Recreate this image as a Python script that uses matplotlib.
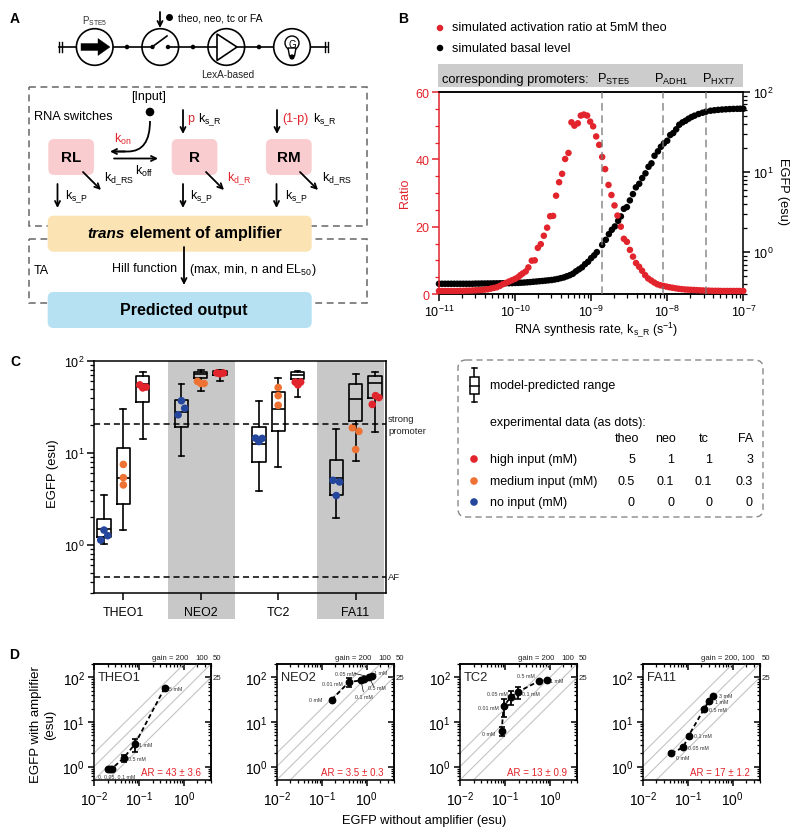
import numpy as np
import matplotlib
matplotlib.use('Agg')
import matplotlib.pyplot as plt
from matplotlib.patches import Circle, FancyBboxPatch, FancyArrow, Polygon, PathPatch
from matplotlib.path import Path
from matplotlib.ticker import MultipleLocator, LogLocator, NullFormatter

plt.rcParams['font.family'] = ['Liberation Sans', 'DejaVu Sans']
plt.rcParams['mathtext.default'] = 'regular'
plt.rcParams['axes.linewidth'] = 1.1

RED = '#E2242C'
ORANGE = '#EE7233'
BLUE = '#24479D'
W, H = 800, 837

# panel B, simulated curves (log10 of synthesis rate)
ratio_lx = [-11.0, -10.96, -10.92, -10.88, -10.84, -10.8, -10.76, -10.72, -10.68, -10.64, -10.6, -10.56,
            -10.52, -10.48, -10.44, -10.4, -10.36, -10.32, -10.28, -10.24, -10.2, -10.16, -10.12, -10.08,
            -10.04, -10.0, -9.96, -9.93, -9.9, -9.86, -9.825, -9.78, -9.741, -9.701, -9.662, -9.622,
            -9.579, -9.539, -9.5, -9.461, -9.421, -9.382, -9.342, -9.298, -9.259, -9.22, -9.175, -9.136,
            -9.096, -9.053, -9.013, -8.974, -8.934, -8.895, -8.855, -8.816, -8.772, -8.733, -8.693, -8.654,
            -8.61, -8.57, -8.53, -8.49, -8.45, -8.41, -8.37, -8.33, -8.29, -8.25, -8.21, -8.17, -8.13,
            -8.09, -8.05, -8.01, -7.97, -7.93, -7.89, -7.85, -7.81, -7.77, -7.73, -7.69, -7.65, -7.61,
            -7.57, -7.53, -7.49, -7.45, -7.41, -7.37, -7.33, -7.29, -7.25, -7.21, -7.17, -7.13, -7.09,
            -7.05, -7.0]
ratio_vals = [0.9, 0.9, 0.9, 0.9, 0.9, 0.9, 0.9, 0.95, 0.95, 1.0, 1.0, 1.05,
              1.1, 1.15, 1.2, 1.3, 1.4, 1.6, 1.8, 2.0, 2.4, 2.9, 3.3, 3.7,
              4.1, 4.5, 5.0, 5.6, 6.1, 6.7, 7.9, 9.9, 10.0, 13.7, 14.8, 17.3,
              19.7, 23.1, 23.2, 29.2, 33.2, 35.7, 40.1, 41.9, 51.0, 50.0, 50.7, 53.0,
              53.3, 53.0, 51.2, 49.8, 46.8, 44.3, 40.7, 37.1, 32.4, 29.4, 26.3, 23.3,
              20.0, 16.4, 15.5, 13.1, 11.1, 9.2, 8.1, 6.9, 5.6, 4.6, 4.0, 3.4, 2.9,
              2.6, 2.4, 2.2, 2.0, 1.85, 1.7, 1.55, 1.45, 1.35, 1.3, 1.25, 1.2, 1.15,
              1.1, 1.05, 1.0, 1.0, 0.95, 0.95, 0.95, 0.9, 0.9, 0.9, 0.9, 0.9, 0.9,
              0.9, 0.9]

basal_lx = [-11.0, -10.96, -10.92, -10.88, -10.84, -10.8, -10.76, -10.72, -10.68, -10.64, -10.6, -10.56,
            -10.52, -10.48, -10.44, -10.4, -10.36, -10.32, -10.28, -10.24, -10.2, -10.16, -10.12, -10.08,
            -10.04, -10.0, -9.96, -9.92, -9.88, -9.84, -9.8, -9.76, -9.72, -9.68, -9.64, -9.6,
            -9.56, -9.52, -9.48, -9.44, -9.4, -9.36, -9.32, -9.28, -9.24, -9.2, -9.16, -9.12,
            -9.08, -9.04, -9.0, -8.96, -8.925, -8.855, -8.807, -8.767, -8.728, -8.688, -8.645, -8.609,
            -8.57, -8.53, -8.491, -8.451, -8.412, -8.368, -8.329, -8.286, -8.246, -8.207, -8.167, -8.122,
            -8.083, -8.043, -8.0, -7.961, -7.921, -7.882, -7.842, -7.799, -7.759, -7.72, -7.68, -7.641,
            -7.588, -7.536, -7.49, -7.43, -7.38, -7.33, -7.28, -7.23, -7.18, -7.13, -7.08, -7.04, -7.0]
basal_log = [-0.395, -0.395, -0.395, -0.395, -0.395, -0.395, -0.395, -0.395, -0.395, -0.395, -0.395, -0.395,
             -0.393, -0.393, -0.392, -0.392, -0.391, -0.391, -0.39, -0.39, -0.389, -0.389, -0.388, -0.388,
             -0.387, -0.385, -0.384, -0.382, -0.38, -0.377, -0.374, -0.37, -0.367, -0.363, -0.36, -0.356,
             -0.352, -0.348, -0.342, -0.335, -0.325, -0.316, -0.302, -0.288, -0.27, -0.24, -0.215, -0.19,
             -0.15, -0.12, -0.075, -0.04, 0.0, 0.09, 0.154, 0.225, 0.279, 0.321, 0.391, 0.446,
             0.541, 0.5625, 0.646, 0.725, 0.809, 0.854, 0.925, 0.984, 1.066, 1.109, 1.204, 1.259,
             1.316, 1.359, 1.391, 1.4625, 1.4875, 1.534, 1.591, 1.621, 1.641, 1.666, 1.6875, 1.704,
             1.725, 1.741, 1.754, 1.766, 1.772, 1.777, 1.781, 1.784, 1.787, 1.789, 1.79, 1.791, 1.791]
promoter_lx = [-8.86, -8.06, -7.49]
promoter_names = ['P$_{STE5}$', 'P$_{ADH1}$', 'P$_{HXT7}$']

# panel C, predicted range: whisker low, q1, median, q3, whisker high
box_groups = ['THEO1', 'NEO2', 'TC2', 'FA11']
box_lo = [1.02, 1.45, 14.2, 9.2, 47.5, 61, 3.87, 7.1, 40.8, 1.94, 8.15, 17]
box_q1 = [1.23, 2.77, 36, 19.2, 65.8, 71, 8, 17.4, 63, 3.53, 22, 39.5]
box_med = [1.48, 5.39, 55.6, 27.6, 71.6, 75, 12.5, 29.9, 71, 5.39, 39, 57.5]
box_q3 = [1.89, 11.3, 68, 37.9, 76, 78, 19.2, 45.6, 75, 8.4, 56.5, 68.8]
box_hi = [3.53, 30.3, 76, 56.7, 79, 80, 37, 65.8, 78, 18.3, 72, 76]
box_pos = [-1, 0, 1, 3, 4, 5, 7, 8, 9, 11, 12, 13]

# panel C, measured dots
dot_pos = [-1.17, -1.0, -0.81, 0, 0, 0, 0.85, 1.0, 1.17,
           2.83, 3.0, 3.17, 3.83, 4.0, 4.17, 4.83, 5.0, 5.17,
           6.83, 7.0, 7.17, 8.0, 8.0, 8.0, 8.88, 9.02, 9.16,
           10.83, 11.0, 11.17, 11.83, 12.0, 12.17, 12.86, 13.03, 13.2]
dot_vals = [1.13, 1.45, 1.26, 7.5, 5.39, 4.49, 55, 51, 52,
            26, 37, 30.6, 60, 57, 57, 74, 72.6, 74,
            14.5, 13.3, 14.4, 51.5, 42, 33, 59, 55, 59,
            5.04, 3.44, 4.84, 18.8, 10.9, 17.2, 33.7, 42, 40]
dot_cols = ([BLUE] * 3 + [ORANGE] * 3 + [RED] * 3) * 4
strong_promoter = 20.8
af_level = 0.45

# panel C legend table
table_heads = ['theo', 'neo', 'tc', 'FA']
table_rows = ['high input (mM)', 'medium input (mM)', 'no input (mM)']
table_vals = [['5', '1', '1', '3'], ['0.5', '0.1', '0.1', '0.3'], ['0', '0', '0', '0']]

# panel D, dose responses
gains = [200, 100, 50, 25]
d_names = ['THEO1', 'NEO2', 'TC2', 'FA11']
d_ar = ['AR = 43 ± 3.6', 'AR = 3.5 ± 0.3', 'AR = 13 ± 0.9', 'AR = 17 ± 1.2']
theo_x = [0.0208, 0.0226, 0.0248, 0.0457, 0.0815, 0.372]
theo_y = [0.9, 0.9, 0.89, 1.56, 3.2, 57.7]
theo_lo = [0.9, 0.9, 0.89, 1.3, 2.1, 55]
theo_hi = [0.9, 0.9, 0.89, 1.8, 4.2, 60]
neo_x = [0.167, 0.405, 0.736, 0.873, 1.146, 1.29]
neo_y = [31.6, 78.7, 85.7, 93.5, 103, 109]
neo_lo = [31.6, 60.7, 85.7, 93.5, 103, 109]
neo_hi = [31.6, 98, 85.7, 93.5, 103, 109]
tc_x = [0.0843, 0.0934, 0.138, 0.191, 0.57, 0.857]
tc_y = [6.18, 22.8, 36.9, 47, 82.8, 87]
tc_lo = [4.8, 12.9, 23.6, 33.2, 82.8, 87]
tc_hi = [7.7, 33.2, 49.4, 59.7, 82.8, 87]
fa_x = [0.0434, 0.080, 0.105, 0.234, 0.303, 0.36]
fa_y = [1.99, 2.71, 4.94, 19.9, 30, 38.9]


def axes_px(fig, left, top, right, bottom):
    return fig.add_axes([left / W, 1 - bottom / H, (right - left) / W, (bottom - top) / H])


fig = plt.figure(figsize=(W / 100, H / 100), dpi=100)
fig.patch.set_facecolor('white')

# overlay in pixel coordinates for the schematic and loose text
ov = fig.add_axes([0, 0, 1, 1], zorder=10)
ov.set_xlim(0, W)
ov.set_ylim(H, 0)
ov.axis('off')
ov.patch.set_alpha(0)


def label(x, y, s, size=8, color='black', ha='left', va='center', **kw):
    ov.text(x, y, s, fontsize=size, color=color, ha=ha, va=va, **kw)


def arrow(x0, y0, x1, y1, lw=1.3):
    ov.annotate('', xy=(x1, y1), xytext=(x0, y0),
                arrowprops=dict(arrowstyle='->', lw=lw, color='black', mutation_scale=9, shrinkA=0, shrinkB=0))


def rbox(x0, y0, x1, y1, color, rad=6, z=2):
    ov.add_patch(FancyBboxPatch((x0 + rad, y0 + rad), x1 - x0 - 2 * rad, y1 - y0 - 2 * rad,
                                boxstyle='round,pad=%d,rounding_size=%d' % (rad, rad),
                                fc=color, ec='none', zorder=z))


for s, x, y in [('A', 15, 19), ('B', 403, 19), ('C', 15, 362), ('D', 14, 655)]:
    label(x, y, s, size=10, ha='center', fontweight='bold')

# ---- panel A ----
ov.plot([59, 327], [48, 48], color='k', lw=1.2, zorder=1)
for x in [59, 61.5, 325, 327.5]:
    ov.plot([x, x], [43, 53], color='k', lw=1.0, zorder=1)
for x in [127, 193, 259]:
    ov.add_patch(Circle((x, 48), 2.3, fc='k', ec='none', zorder=3))
for x in [94.7, 160.3, 226.3, 292]:
    ov.add_patch(Circle((x, 48), 18.3, fc='white', ec='k', lw=1.2, zorder=2))
ov.add_patch(FancyArrow(81, 48, 29, 0, width=7, head_width=17, head_length=12,
                        length_includes_head=True, fc='k', ec='k', lw=0.3, zorder=3))
# switch
ov.plot([142, 152], [48, 48], color='k', lw=1.2, zorder=3)
ov.plot([168, 178], [48, 48], color='k', lw=1.2, zorder=3)
ov.plot([152, 167], [48, 37], color='k', lw=1.2, zorder=3)
for x in [152.5, 168]:
    ov.add_patch(Circle((x, 48), 2.2, fc='k', ec='none', zorder=3))
# amplifier
ov.plot([208, 218], [48, 48], color='k', lw=1.2, zorder=3)
ov.plot([236, 244], [48, 48], color='k', lw=1.2, zorder=3)
ov.add_patch(Polygon([(217, 35), (217, 61.5), (237, 48)], closed=True, fc='white', ec='k', lw=1.2, zorder=3))
# bulb
ov.add_patch(Circle((292, 44), 7, fc='white', ec='k', lw=1.0, zorder=3))
ov.add_patch(Polygon([(288, 49), (296, 49), (294.5, 57), (289.5, 57)], closed=True, fc='white', ec='k', lw=1.0, zorder=3))
ov.add_patch(Circle((292, 58), 2.6, fc='k', ec='none', zorder=3))
label(292, 44.5, 'G', size=7, ha='center', zorder=4)
arrow(160, 13, 160, 29)
ov.add_patch(Circle((169.5, 18.5), 3.5, fc='k', ec='none'))
label(178, 18, 'theo, neo, tc or FA', size=7.5)
label(95, 21.5, 'P$_{STE5}$', size=7, ha='center', color='#333333')
label(228, 75, 'LexA-based', size=7.2, ha='center', color='#222222')

dash = (0, (4.5, 3))
ov.add_patch(FancyBboxPatch((28.7, 87.7), 338, 139.3, boxstyle='square,pad=0', fc='none', ec='#666666', lw=1.1, ls=dash, zorder=1))
ov.add_patch(FancyBboxPatch((28.7, 240), 338, 64, boxstyle='square,pad=0', fc='none', ec='#666666', lw=1.1, ls=dash, zorder=1))
for x0, s in [(48.3, 'RL'), (171.7, 'R'), (266, 'RM')]:
    rbox(x0, 140, x0 + 45.7, 176, '#F9CDD0')
    label(x0 + 22.8, 158, s, size=11, ha='center', fontweight='bold', zorder=3)
rbox(47.7, 216.7, 311.7, 252.7, '#FBE3B3')
rbox(47.7, 293, 311.7, 329, '#B5E1F3')
label(87, 233.5, 'trans', size=11, fontweight='bold', style='italic', zorder=3)
label(130, 233.5, 'element of amplifier', size=11.5, fontweight='bold', zorder=3)
label(184, 310.5, 'Predicted output', size=11.5, ha='center', fontweight='bold', zorder=3)

label(149, 97, '[Input]', size=9, ha='center')
label(34, 117, 'RNA switches', size=9.2)
ov.add_patch(Circle((150, 113), 4.3, fc='k', ec='none'))
curve = Path([(150, 122), (150, 152.5), (128, 152.5), (113, 152.5)],
             [Path.MOVETO, Path.CURVE3, Path.CURVE3, Path.LINETO])
ov.add_patch(PathPatch(curve, fc='none', ec='k', lw=1.3))
arrow(125, 152.5, 110, 152.5)
arrow(114, 159.5, 158, 159.5)
label(114, 139, 'k$_{on}$', size=9, color=RED)
label(135, 171, 'k$_{off}$', size=9)
arrow(183, 111, 183, 135)
arrow(277, 111, 277, 135)
label(187, 119, 'p', size=9, color=RED)
label(198, 120, r'k$_{s\_R}$', size=9)
label(282, 119, '(1-p)', size=9, color=RED)
label(313, 120, r'k$_{s\_R}$', size=9)
for x0, tx, s, c in [(83, 104, r'k$_{d\_RS}$', 'black'), (206, 227, r'k$_{d\_R}$', RED), (300, 322, r'k$_{d\_RS}$', 'black')]:
    arrow(x0, 173, x0 + 18, 191)
    label(tx, 179, s, size=9, color=c)
for x0, tx in [(57.5, 65), (183, 190.5), (276.5, 285)]:
    arrow(x0, 185, x0, 209)
    label(tx, 197, r'k$_{s\_P}$', size=9)
arrow(184, 248, 184, 286)
label(177, 269, 'Hill function', size=9, ha='right')
label(189, 269.5, '(max, min, n and EL$_{50}$)', size=9)
label(34, 271, 'TA', size=9)

# ---- panel B ----
ov.add_patch(FancyBboxPatch((437.7, 65), 305, 23, boxstyle='square,pad=0', fc='#CCCCCC', ec='none', zorder=0))
label(441.5, 79.5, 'corresponding promoters:', size=9.3)
for x, s in zip([596.7, 654, 701.7], promoter_names):
    label(x, 79.5, s, size=9.3)
ov.scatter([440, 440], [29, 49], s=22, c=[RED, 'black'], edgecolors='none')
label(451.5, 28, 'simulated activation ratio at 5mM theo', size=9.2)
label(451.5, 49, 'simulated basal level', size=9.2)

ax_b = axes_px(fig, 439, 93, 743.3, 295)
ax_b2 = ax_b.twinx()
ax_b.set_zorder(ax_b2.get_zorder() + 1)
ax_b.patch.set_visible(False)
ax_b2.scatter(10.0 ** np.array(basal_lx), 10.0 ** np.array(basal_log), s=22, c='black', edgecolors='none', clip_on=False, zorder=3)
ax_b.scatter(10.0 ** np.array(ratio_lx), ratio_vals, s=22, c=RED, edgecolors='none', clip_on=False, zorder=3)
for lx in promoter_lx:
    ax_b.axvline(10.0 ** lx, color='#777777', lw=1.1, ls=(0, (5, 3)), alpha=0.85, zorder=4)
ax_b.set_xscale('log')
ax_b.set_xlim(1e-11, 1e-7)
ax_b.set_ylim(0, 60)
ax_b.set_yticks([0, 20, 40, 60])
ax_b.yaxis.set_minor_locator(MultipleLocator(5))
ax_b.xaxis.set_major_locator(LogLocator(base=10, numticks=10))
ax_b.xaxis.set_minor_locator(LogLocator(base=10, subs=range(2, 10), numticks=60))
ax_b.xaxis.set_minor_formatter(NullFormatter())
ax_b.tick_params(axis='x', which='major', length=5, width=1.1, labelsize=9, pad=2)
ax_b.tick_params(axis='x', which='minor', length=3, width=0.9)
ax_b.tick_params(axis='y', which='major', length=5, width=1.1, colors=RED, labelsize=9, pad=2)
ax_b.tick_params(axis='y', which='minor', length=3, width=0.9, colors=RED)
ax_b.spines['left'].set_color(RED)
ax_b.spines['right'].set_visible(False)
ax_b2.spines['left'].set_visible(False)
ax_b2.set_yscale('log')
ax_b2.set_ylim(0.3, 100)
ax_b2.tick_params(axis='y', which='major', length=5, width=1.1, labelsize=9, pad=2)
ax_b2.tick_params(axis='y', which='minor', length=3, width=0.9)
label(405, 193, 'Ratio', size=9, color=RED, ha='center', rotation=90)
label(783, 192, 'EGFP (esu)', size=9.2, ha='center', rotation=270)
label(596, 330, r'RNA synthesis rate, k$_{s\_R}$ (s$^{-1}$)', size=8.9, ha='center')

# ---- panel C ----
ax_c = axes_px(fig, 94, 362, 386, 594)
ax_c.axvspan(2.29, 5.76, ymin=-0.112, ymax=1, color='#C8C8C8', lw=0, clip_on=False, zorder=0)
ax_c.axvspan(10.0, 13.47, ymin=-0.112, ymax=1, color='#C8C8C8', lw=0, clip_on=False, zorder=0)
stats = [dict(med=m, q1=a, q3=b, whislo=lo, whishi=hi)
         for lo, a, m, b, hi in zip(box_lo, box_q1, box_med, box_q3, box_hi)]
line = dict(color='black', lw=1.2)
ax_c.bxp(stats, positions=box_pos, widths=0.69, showfliers=False, manage_ticks=False, capwidths=0.3,
         boxprops=line, medianprops=line, whiskerprops=line, capprops=line, zorder=3)
ax_c.scatter(dot_pos, dot_vals, s=30, c=dot_cols, edgecolors='none', zorder=4)
ax_c.axhline(strong_promoter, color='black', lw=1.1, ls=(0, (4, 2.5)), zorder=5)
ax_c.axhline(af_level, color='black', lw=1.1, ls=(0, (4, 2.5)), zorder=5)
ax_c.set_yscale('log')
ax_c.set_ylim(0.3, 100)
ax_c.set_xlim(-1.517, 13.57)
ax_c.set_xticks([0, 4, 8, 12])
ax_c.set_xticklabels(box_groups)
ax_c.tick_params(axis='x', length=5, width=1.1, labelsize=8.9, pad=4)
ax_c.tick_params(axis='y', which='major', length=5, width=1.1, labelsize=9, pad=2)
ax_c.tick_params(axis='y', which='minor', length=3, width=0.9)
label(53, 474, 'EGFP (esu)', size=9.4, ha='center', rotation=90)
label(388, 419, 'strong', size=6.8, color='#222222')
label(388, 431, 'promoter', size=6.8, color='#222222')
label(388, 578, 'AF', size=6.8, color='#222222')

# legend box of panel C
ov.add_patch(FancyBboxPatch((466, 369), 289, 141, boxstyle='round,pad=8,rounding_size=8',
                            fc='none', ec='#888888', lw=1.0, ls=dash))
ov.plot([474, 474], [369, 403], color='k', lw=1.1)
for y in [369, 403]:
    ov.plot([471.5, 476.5], [y, y], color='k', lw=1.1)
ov.add_patch(FancyBboxPatch((469.5, 378), 9, 17, boxstyle='square,pad=0', fc='white', ec='k', lw=1.1, zorder=3))
ov.plot([469.5, 478.5], [387, 387], color='k', lw=1.1, zorder=4)
label(490, 386, 'model-predicted range', size=9)
label(490, 423, 'experimental data (as dots):', size=9)
for x, s in zip([627, 666, 704, 746], table_heads):
    label(x, 439, s, size=9, ha='center')
for y, name, vals, c in zip([460, 482, 503], table_rows, table_vals, [RED, ORANGE, BLUE]):
    ov.scatter([474], [y], s=30, c=c, edgecolors='none')
    label(490, y, name, size=9)
    for x, v in zip([635, 674, 712, 753], vals):
        label(x, y, v, size=9, ha='right')

# ---- panel D ----
d_left = [94, 276.7, 460, 642.7]
d_series = [(theo_x, theo_y, theo_lo, theo_hi), (neo_x, neo_y, neo_lo, neo_hi),
            (tc_x, tc_y, tc_lo, tc_hi), (fa_x, fa_y, fa_y, fa_y)]
d_dose_labels = [
    [(116.7, 777, '0, 0.05, 0.1 mM'), (136.5, 759.3, '0.5 mM'), (146, 745.3, '1 mM'), (176, 689.3, '5 mM')],
    [(316, 700.3, '0 mM'), (332.3, 684, '0.01 mM'), (345, 674.7, '0.05 mM'), (364, 697.7, '0.1 mM'), (377, 688, '0.5 mM'), (381, 673.7, '1 mM')],
    [(488.7, 734.3, '0 mM'), (488.7, 708, '0.01 mM'), (497, 695, '0.05 mM'), (531, 695, '0.1 mM'), (526, 676.7, '0.5 mM'), (557, 681.7, '1 mM')],
    [(683, 759, '0 mM'), (698.7, 748.3, '0.05 mM'), (703, 737, '0.1 mM'), (718, 710, '0.5 mM'), (722, 702, '1 mM'), (726, 696, '3 mM')],
]
pointer_lines = [((355, 674.5), (366.7, 677.3)), ((361.7, 685), (363.3, 692.7)), ((370, 680), (373.3, 686.7))]

for i, left in enumerate(d_left):
    ax = axes_px(fig, left, 665, left + 117, 781)
    xs, ys, lo, hi = d_series[i]
    guide = np.array([0.001, 10])
    for g in gains:
        ax.plot(guide, guide * g, color='#C4C4C4', lw=0.8, zorder=1)
    ax.errorbar(xs, ys, yerr=[np.array(ys) - np.array(lo), np.array(hi) - np.array(ys)], color='black',
                fmt='o', ms=4.6, elinewidth=1.3, capsize=2.4, capthick=1.2, zorder=4)
    ax.plot(xs, ys, color='black', lw=1.3, ls=(0, (2.5, 1.6)), zorder=3)
    ax.set_xscale('log')
    ax.set_yscale('log')
    ax.set_xlim(0.01, 4)
    ax.set_ylim(0.5, 200)
    ax.xaxis.set_major_locator(LogLocator(base=10, numticks=8))
    ax.yaxis.set_major_locator(LogLocator(base=10, numticks=8))
    ax.xaxis.set_minor_locator(LogLocator(base=10, subs=range(2, 10), numticks=40))
    ax.yaxis.set_minor_locator(LogLocator(base=10, subs=range(2, 10), numticks=40))
    ax.xaxis.set_minor_formatter(NullFormatter())
    ax.yaxis.set_minor_formatter(NullFormatter())
    ax.tick_params(axis='both', which='major', length=4.5, width=1.1, labelsize=10, pad=2)
    ax.tick_params(axis='both', which='minor', length=2.5, width=0.9)
    top = ax.secondary_xaxis('top')
    right = ax.secondary_yaxis('right')
    for sec in (top, right):
        sec.tick_params(which='major', direction='in', length=4.5, width=1.1, labelleft=False,
                        labelright=False, labeltop=False, labelbottom=False)
        sec.tick_params(which='minor', direction='in', length=2.5, width=0.9)
    label(left + 4, 678, d_names[i], size=9.3, color='#222222')
    label(left + 107, 773.5, d_ar[i], size=7, color=RED, ha='right')
    if i == 3:
        label(left + 58.5, 658, 'gain = 200, 100', size=5.6, color='#222222')
    else:
        label(left + 58.5, 658, 'gain = 200', size=5.6, color='#222222')
        label(left + 101.5, 658, '100', size=5.6, color='#222222')
    label(left + 118.7, 658, '50', size=5.6, color='#222222')
    label(left + 118.7, 678, '25', size=5.6, color='#222222')
    for x, y, s in d_dose_labels[i]:
        label(x, y, s, size=3.8, color='#333333', ha='center')

for a, b in pointer_lines:
    ov.plot([a[0], b[0]], [a[1], b[1]], color='k', lw=0.5)

label(43, 725, 'EGFP with amplifier\n(esu)', size=9.5, ha='center', rotation=90, multialignment='center', linespacing=1.25)
label(424, 821, 'EGFP without amplifier (esu)', size=9.3, ha='center')

fig.savefig('out.png', dpi=100)
